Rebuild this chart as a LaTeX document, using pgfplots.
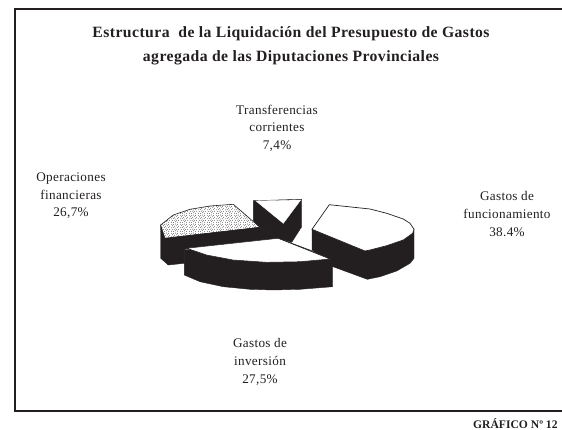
\documentclass[border=0pt]{standalone}
\usepackage{fontspec}
\setmainfont{Liberation Serif}
\newfontfamily\labfont[LetterSpace=2.5]{Liberation Serif}
\newfontfamily\titfont[LetterSpace=2.8]{Liberation Serif}
\usepackage{pgfplots}
\pgfplotsset{compat=1.18}
\usetikzlibrary{patterns}
\definecolor{ink}{HTML}{231F20}
% irregular speckle for the financial slice
\pgfdeclarepatternformonly{speckle}{\pgfqpoint{0pt}{0pt}}{\pgfqpoint{9pt}{9pt}}{\pgfqpoint{9pt}{9pt}}{%
  \foreach \px/\py in {0.6/0.9,2.7/0.4,4.9/1.3,7.2/0.7,1.5/2.6,3.6/3.0,6.1/2.5,8.2/2.9,0.4/4.6,2.5/4.9,4.8/4.3,7.0/4.8,1.6/6.7,3.9/6.3,5.9/6.9,8.3/6.2,0.7/8.4,3.0/8.2,5.0/8.6,7.2/8.3}{
    \pgfpathcircle{\pgfqpoint{\px pt}{\py pt}}{0.42pt}
  }
  \pgfusepath{fill}
}
\tikzset{
    lab/.style={align=center,font=\fontsize{13.2}{17.6}\labfont,text=ink},
    tit/.style={font=\fontsize{15.7}{23.5}\titfont\bfseries,text=ink,align=center},
}
\begin{document}
\begin{tikzpicture}[x=1pt,y=1pt]
\useasboundingbox (0,0) rectangle (562,430);
\begin{axis}[
    at={(0,0)},anchor=south west,
    scale only axis,width=562pt,height=430pt,
    xmin=0,xmax=562,ymin=0,ymax=430,
    y dir=reverse,hide axis,clip=false,
    every axis plot/.append style={draw=ink,line width=0.4pt,mark=none},
]
% frame
\addplot[line width=2pt,forget plot] coordinates {(562,9.5) (14.5,9.5) (14.5,411) (562,411)};
% right slice: gastos de funcionamiento
\addplot[fill=ink] coordinates {(312,229.3) (365,251) (370,250) (386.7,245.7) (403.3,240) (412.7,233.3) (414,229.3) (414,258.3) (410,263.3) (396.7,271) (380,276.7) (367.3,279.3) (333,266.7) (312,250)} -- cycle;
\addplot[fill=white,line width=0.7pt] coordinates {(329.3,204.7) (370,209) (386.7,213.3) (403.3,219) (410,223.3) (414,229.3) (412.7,233.3) (403.3,240) (386.7,245.7) (370,250) (365,251) (312,229.3)} -- cycle;
% top triangle: transferencias corrientes
\addplot[fill=ink] coordinates {(253.3,200.7) (301.7,199.3) (301.7,226.7) (291.7,242.3) (278.3,238.3) (260,227.3) (253.3,220.7)} -- cycle;
\addplot[fill=white,draw=white] coordinates {(256,201) (300.7,200) (283.3,223.3)} -- cycle;
% left slice: operaciones financieras
\addplot[fill=ink] coordinates {(160.7,225) (160.7,258.3) (168.3,265) (184.3,263.3) (184.3,250) (186.7,248.3) (278.3,238.3) (260,227.3) (165,238.3)} -- cycle;
\addplot[pattern=speckle,pattern color=ink,line width=0.6pt] coordinates {(160.7,225) (173.3,215) (190,209.3) (210,206) (233.3,204.3) (260,227.3) (165,238.3) (161.7,237.3)} -- cycle;
% bottom slice: gastos de inversion
\addplot[fill=ink] coordinates {(184.3,250) (184.3,275) (200,281.7) (223.3,286.7) (250,289.3) (273.3,290) (300,289.3) (332.7,286.7) (332.7,259.3) (278.3,238.3)} -- cycle;
\addplot[fill=white,line width=0.5pt] coordinates {(186.7,248.3) (278.3,238.3) (330,259) (300,261.7) (266.7,262.3) (233.3,260) (206.7,255)} -- cycle;
\addplot[line width=0.5pt] coordinates {(278.3,238.3) (311.7,250.7)};
% title
\node[tit] at (axis cs:291,46) {Estructura\ \ de la Liquidación del Presupuesto de Gastos\\agregada de las Diputaciones Provinciales};
% labels
\node[lab] at (axis cs:277,128) {Transferencias\\corrientes\\7,4\%};
\node[lab] at (axis cs:71,196) {Operaciones\\financieras\\26,7\%};
\node[lab] at (axis cs:507,214) {Gastos de\\funcionamiento\\38.4\%};
\node[lab] at (axis cs:260,362) {Gastos de\\inversión\\27,5\%};
\node[anchor=west,inner sep=0pt,font=\fontsize{11.6}{13}\selectfont\bfseries,text=ink] at (axis cs:473,424) {GRÁFICO Nº 12};
\end{axis}
\end{tikzpicture}
\end{document}
